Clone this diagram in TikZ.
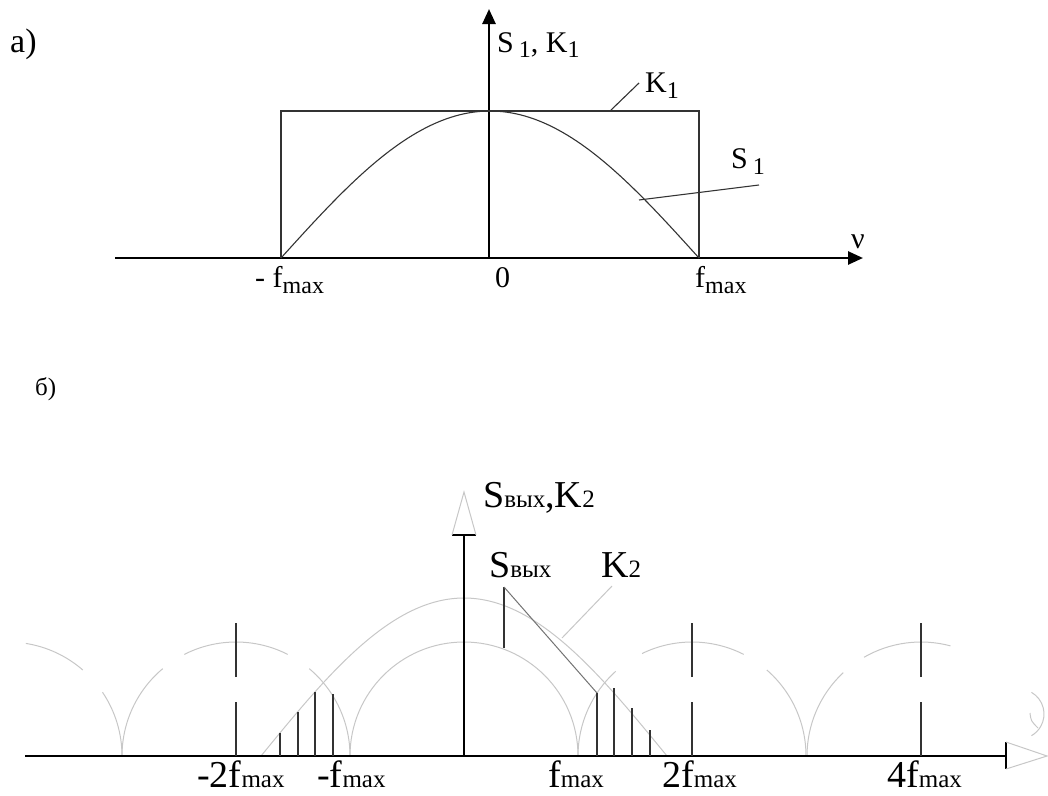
\documentclass[tikz,border=0pt]{standalone}
\usepackage{fontspec}
\setmainfont{Liberation Serif}
\usetikzlibrary{arrows.meta,calc}
\newcommand\fa{\fontsize{30}{35}\selectfont}
\newcommand\fas{\fontsize{24}{28}\selectfont}
\newcommand\fb{\fontsize{38}{44}\selectfont}
\newcommand\fbs{\fontsize{25}{29}\selectfont}
\newcommand\suba[1]{\raisebox{-0.2em}{\fas #1}}
\newcommand\rarc[3]{\draw[arcB] ([shift={(-#2:114)}]#1,756) arc[start angle=-#2, end angle=-#3, radius=114];}
\tikzset{
  axisA/.style={line width=2.6pt, black},
  thinA/.style={line width=1.1pt, black!80},
  axisB/.style={line width=1.4pt, black},
  samp/.style={line width=1.4pt, black!80},
  arcB/.style={line width=1pt, black!22},
  lbl/.style={inner sep=0pt, anchor=base west},
}
\begin{document}
\begin{tikzpicture}[x=1pt,y=-1pt]
\useasboundingbox (0,0) rectangle (1048,795);
% ---------------- part a ----------------
\coordinate (ax0) at (115,258);
\coordinate (ax1) at (863,258);
\coordinate (ay0) at (489,258);
\coordinate (ay1) at (489,9);
\draw[axisA,-{Triangle[length=15pt,width=13pt]}] (ax0) -- (ax1);
\draw[axisA,-{Triangle[length=15pt,width=13pt]}] (ay0) -- (ay1);
\coordinate (r1) at (281,258);
\coordinate (r2) at (281,111);
\coordinate (r3) at (699,111);
\coordinate (r4) at (699,258);
\draw[thinA] (r1) -- (r2) -- (r3) -- (r4);
\draw[thinA] plot[domain=-209:209, samples=90] ({490+\x},{258-147*cos(\x/209*90)});
\node[lbl] (la) at (10,52) {\fontsize{34}{40}\selectfont а)};
\node[lbl] (lSK1) at (497,52) {\fa S\,\suba{1}, K\suba{1}};
\node[lbl] (lK1) at (645,92) {\fa K\suba{1}};
\node[lbl] (lS1) at (731,168) {\fa S\,\suba{1}};
\node[lbl] (lnu) at (851,248) {\fa ν};
\node[lbl] (lmf) at (255,287) {\fa - f\suba{max}};
\node[lbl] (l0) at (495,287) {\fa 0};
\node[lbl] (lf) at (695,287) {\fa f\suba{max}};
\coordinate (k1a) at (610,111);
\coordinate (k1b) at (639,83);
\draw[thinA] (k1a) -- (k1b);
\coordinate (s1a) at (639,200);
\coordinate (s1b) at (759,185);
\draw[thinA] (s1a) -- (s1b);
% ---------------- part b ----------------
\node[lbl] (lb) at (35,395) {\fontsize{25}{30}\selectfont б)};
% replica arcs
\rarc{8}{0}{34}
\rarc{8}{49}{81}
\rarc{236}{0}{50}
\rarc{236}{63}{117}
\rarc{236}{130}{180}
\rarc{464}{0}{180}
\rarc{692}{0}{49}
\rarc{692}{63}{116}
\rarc{692}{132}{180}
\rarc{921}{75}{120}
\rarc{921}{133}{180}
\draw[arcB] ([shift={(-60:25)}]1019,714) arc[start angle=-60, end angle=60, radius=25];
\draw[arcB] (1030,713) .. controls (1031,721) .. (1038,728);
% K2 envelope
\draw[arcB] plot[domain=-203:203, samples=90] ({464+\x},{756-158*cos(\x/203*90)});
% axes
\coordinate (bx0) at (25,756);
\coordinate (bx1) at (1006,756);
\draw[axisB] (bx0) -- (bx1);
\coordinate (tx1) at (1006,742);
\coordinate (tx2) at (1047,756);
\coordinate (tx3) at (1006,769);
\draw[axisB] (tx1) -- (tx3);
\draw[arcB] (tx1) -- (tx2) -- (tx3);
\coordinate (by0) at (464,756);
\coordinate (by1) at (464,535);
\draw[axisB] (by0) -- (by1);
\coordinate (ty1) at (452,535);
\coordinate (ty2) at (464,492);
\coordinate (ty3) at (476,535);
\draw[axisB] (ty1) -- (ty3);
\draw[arcB] (ty1) -- (ty2) -- (ty3);
% samples
\foreach \x/\t in {280/733, 298/712, 315/692, 333/694, 597/693, 614/688, 632/708, 650/730}
  \draw[samp] (\x,756) -- (\x,\t);
% dashed verticals
\foreach \x in {236, 692, 921} {
  \draw[samp] (\x,756) -- (\x,702);
  \draw[samp] (\x,677) -- (\x,623);
}
% leaders
\coordinate (sva) at (504,648);
\coordinate (svb) at (504,587);
\coordinate (svc) at (597,693);
\draw[samp] (sva) -- (svb);
\draw[line width=1pt, black!55] (svb) -- (svc);
\coordinate (k2a) at (612,586);
\coordinate (k2b) at (562,638);
\draw[arcB] (k2a) -- (k2b);
% labels
\node[lbl] (lSK2) at (483,507) {\fb S{\fbs вых},K{\fbs 2}};
\node[lbl] (lS) at (489,577) {\fb S{\fbs вых}};
\node[lbl] (lK2) at (601,577) {\fb K{\fbs 2}};
\node[lbl] (lm2f) at (197,787) {\fb -2f{\fbs max}};
\node[lbl] (lmf2) at (317,787) {\fb -f{\fbs max}};
\node[lbl] (lf2) at (548,787) {\fb f{\fbs max}};
\node[lbl] (l2f) at (662,787) {\fb 2f{\fbs max}};
\node[lbl] (l4f) at (887,787) {\fb 4f{\fbs max}};
\end{tikzpicture}
\end{document}
